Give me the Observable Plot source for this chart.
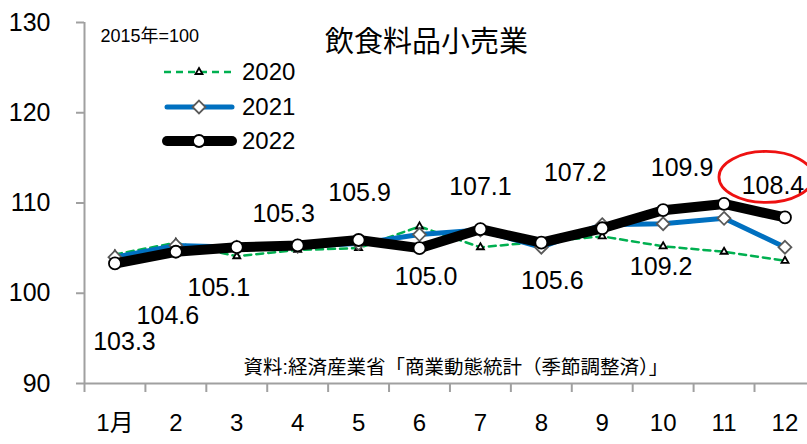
<!DOCTYPE html>
<html><head><meta charset="utf-8">
<script src="https://cdn.jsdelivr.net/npm/d3@7"></script>
<script src="https://cdn.jsdelivr.net/npm/@observablehq/plot@0.6"></script>
<style>
html,body{margin:0;padding:0;background:#fff;}
#chart svg{display:block;}
</style></head><body><div id="chart"></div>
<script>
// ---- data ----
const months = [1,2,3,4,5,6,7,8,9,10,11,12];
const monthLabels = ["1月","2","3","4","5","6","7","8","9","10","11","12"];
const v2020 = [104.3,105.6,104.1,104.8,105.0,107.4,105.1,105.7,106.3,105.2,104.6,103.6];
const v2021 = [104.0,105.3,105.1,105.2,105.5,106.5,107.0,105.1,107.6,107.7,108.3,105.1];
const v2022 = [103.3,104.6,105.1,105.3,105.9,105.0,107.1,105.6,107.2,109.2,109.9,108.4];
const valueLabels2022 = ["103.3","104.6","105.1","105.3","105.9","105.0","107.1","105.6","107.2","109.2","109.9","108.4"];
const yTicks = [90,100,110,120,130];
const seriesNames = ["2020","2021","2022"];
const titleText = "飲食料品小売業";
const baseNote = "2015年=100";
const sourceText = "資料:経済産業省「商業動態統計（季節調整済）」";

// ---- layout (pixel offsets of the value labels, Excel-style placement) ----
const labelOffsets = [[9.5,79],[-8,64],[-18,41],[-14,-31],[1,-47],[6.5,29],[0,-42],[11,38],[-27,-55],[-2,57],[-42,-36],[-12,-31]];
const boundaries = d3.range(0, 12).map(i => i + 0.5);

const rows = (vals) => months.map((m, i) => ({month: m, value: vals[i]}));
const d2020 = rows(v2020), d2021 = rows(v2021), d2022 = rows(v2022);

const FONT = "'Liberation Sans', 'Noto Sans CJK JP', sans-serif";
const GREEN = "#00b050", BLUE = "#0070c0", AXIS = "#a0a0a0";

const labelMarks = d2022.map((d, i) => Plot.text([d], {
  x: "month", y: "value", text: () => valueLabels2022[i],
  dx: labelOffsets[i][0], dy: labelOffsets[i][1],
  fontSize: 25, fill: "black"
}));

function legendAndEllipse(index, scales, values, dims, context) {
  const g = d3.select(context.document.createElementNS("http://www.w3.org/2000/svg", "g"));
  // ellipse around the last 2022 label
  const cx = scales.x(months[11]) - 18.5, cy = scales.y(v2022[11]) - 40;
  g.append("ellipse").attr("cx", cx).attr("cy", cy).attr("rx", 47).attr("ry", 25.5)
    .attr("fill", "none").attr("stroke", "#ee1111").attr("stroke-width", 2.8);
  // legend
  const items = [
    {name: seriesNames[0], y: 72, stroke: GREEN, w: 2.5, dash: "7,5", sym: d3.symbolTriangle, size: 21, sfill: "white", sstroke: "black", sw: 1.8},
    {name: seriesNames[1], y: 107, stroke: BLUE, w: 5, dash: null, sym: d3.symbolDiamond2, size: Math.PI*5.8*5.8, sfill: "white", sstroke: "#595959", sw: 1.8},
    {name: seriesNames[2], y: 141, stroke: "black", w: 10, dash: null, sym: d3.symbolCircle, size: Math.PI*36, sfill: "white", sstroke: "black", sw: 1.8}
  ];
  for (const it of items) {
    const l = g.append("line").attr("x1", it.dash ? 164 : 167).attr("x2", it.dash ? 234 : 232)
      .attr("y1", it.y).attr("y2", it.y).attr("stroke", it.stroke).attr("stroke-width", it.w)
      .attr("stroke-linecap", it.dash ? "butt" : "round");
    if (it.dash) l.attr("stroke-dasharray", it.dash);
    g.append("path").attr("d", d3.symbol(it.sym, it.size)()).attr("transform", `translate(199,${it.y})`)
      .attr("fill", it.sfill).attr("stroke", it.sstroke).attr("stroke-width", it.sw);
    g.append("text").attr("x", 242).attr("y", it.y).attr("dy", "0.35em").attr("font-size", 24)
      .attr("text-anchor", "start").attr("fill", "black").text(it.name);
  }
  return g.node();
}

const chart = Plot.plot({
  width: 807, height: 444,
  marginLeft: 84, marginRight: 0, marginTop: 22, marginBottom: 61,
  x: {type: "linear", domain: [0.5, 12.37], axis: null},
  y: {domain: [90, 130], axis: null},
  style: {fontFamily: FONT, fontSize: "24px", color: "black", background: "white", overflow: "visible"},
  marks: [
    Plot.axisY(yTicks, {anchor: "left", tickSize: 8, tickPadding: 26, stroke: AXIS, strokeWidth: 2, fill: "black", fontSize: 25, label: null}),
    Plot.axisX(boundaries, {anchor: "bottom", tickSize: 9, stroke: AXIS, strokeWidth: 2, fill: "none", label: null, tickFormat: () => ""}),
    Plot.axisX(months, {anchor: "bottom", tickSize: 0, tickPadding: 30, fill: "black", fontSize: 24, label: null, tickFormat: (d, i) => monthLabels[i]}),
    Plot.ruleX([0.5], {y1: 90, y2: 130, stroke: AXIS, strokeWidth: 2}),
    Plot.ruleY([90], {stroke: AXIS, strokeWidth: 2}),
    Plot.text([titleText], {frameAnchor: "top-left", dx: 342, dy: 9, textAnchor: "middle", fontSize: 29, fill: "black"}),
    Plot.text([baseNote], {frameAnchor: "top-left", dx: 16, dy: 6.5, textAnchor: "start", fontSize: 18, fill: "black"}),
    Plot.text([sourceText], {frameAnchor: "top-left", dx: 159, dy: 338, textAnchor: "start", fontSize: 19.5, fill: "black"}),
    // 2020
    Plot.line(d2020, {x: "month", y: "value", stroke: GREEN, strokeWidth: 2.5, strokeDasharray: "7,5"}),
    Plot.dot(d2020, {x: "month", y: "value", symbol: "triangle", r: 2.6, fill: "white", stroke: "black", strokeWidth: 1.8}),
    // 2021
    Plot.line(d2021, {x: "month", y: "value", stroke: BLUE, strokeWidth: 5}),
    Plot.dot(d2021, {x: "month", y: "value", symbol: "diamond2", r: 5.8, fill: "white", stroke: "#595959", strokeWidth: 1.8}),
    // 2022
    Plot.line(d2022, {x: "month", y: "value", stroke: "black", strokeWidth: 10, strokeLinejoin: "round"}),
    Plot.dot(d2022, {x: "month", y: "value", r: 6, fill: "white", stroke: "black", strokeWidth: 1.8}),
    ...labelMarks,
    legendAndEllipse
  ]
});
document.getElementById("chart").append(chart);
</script>
</body></html>
